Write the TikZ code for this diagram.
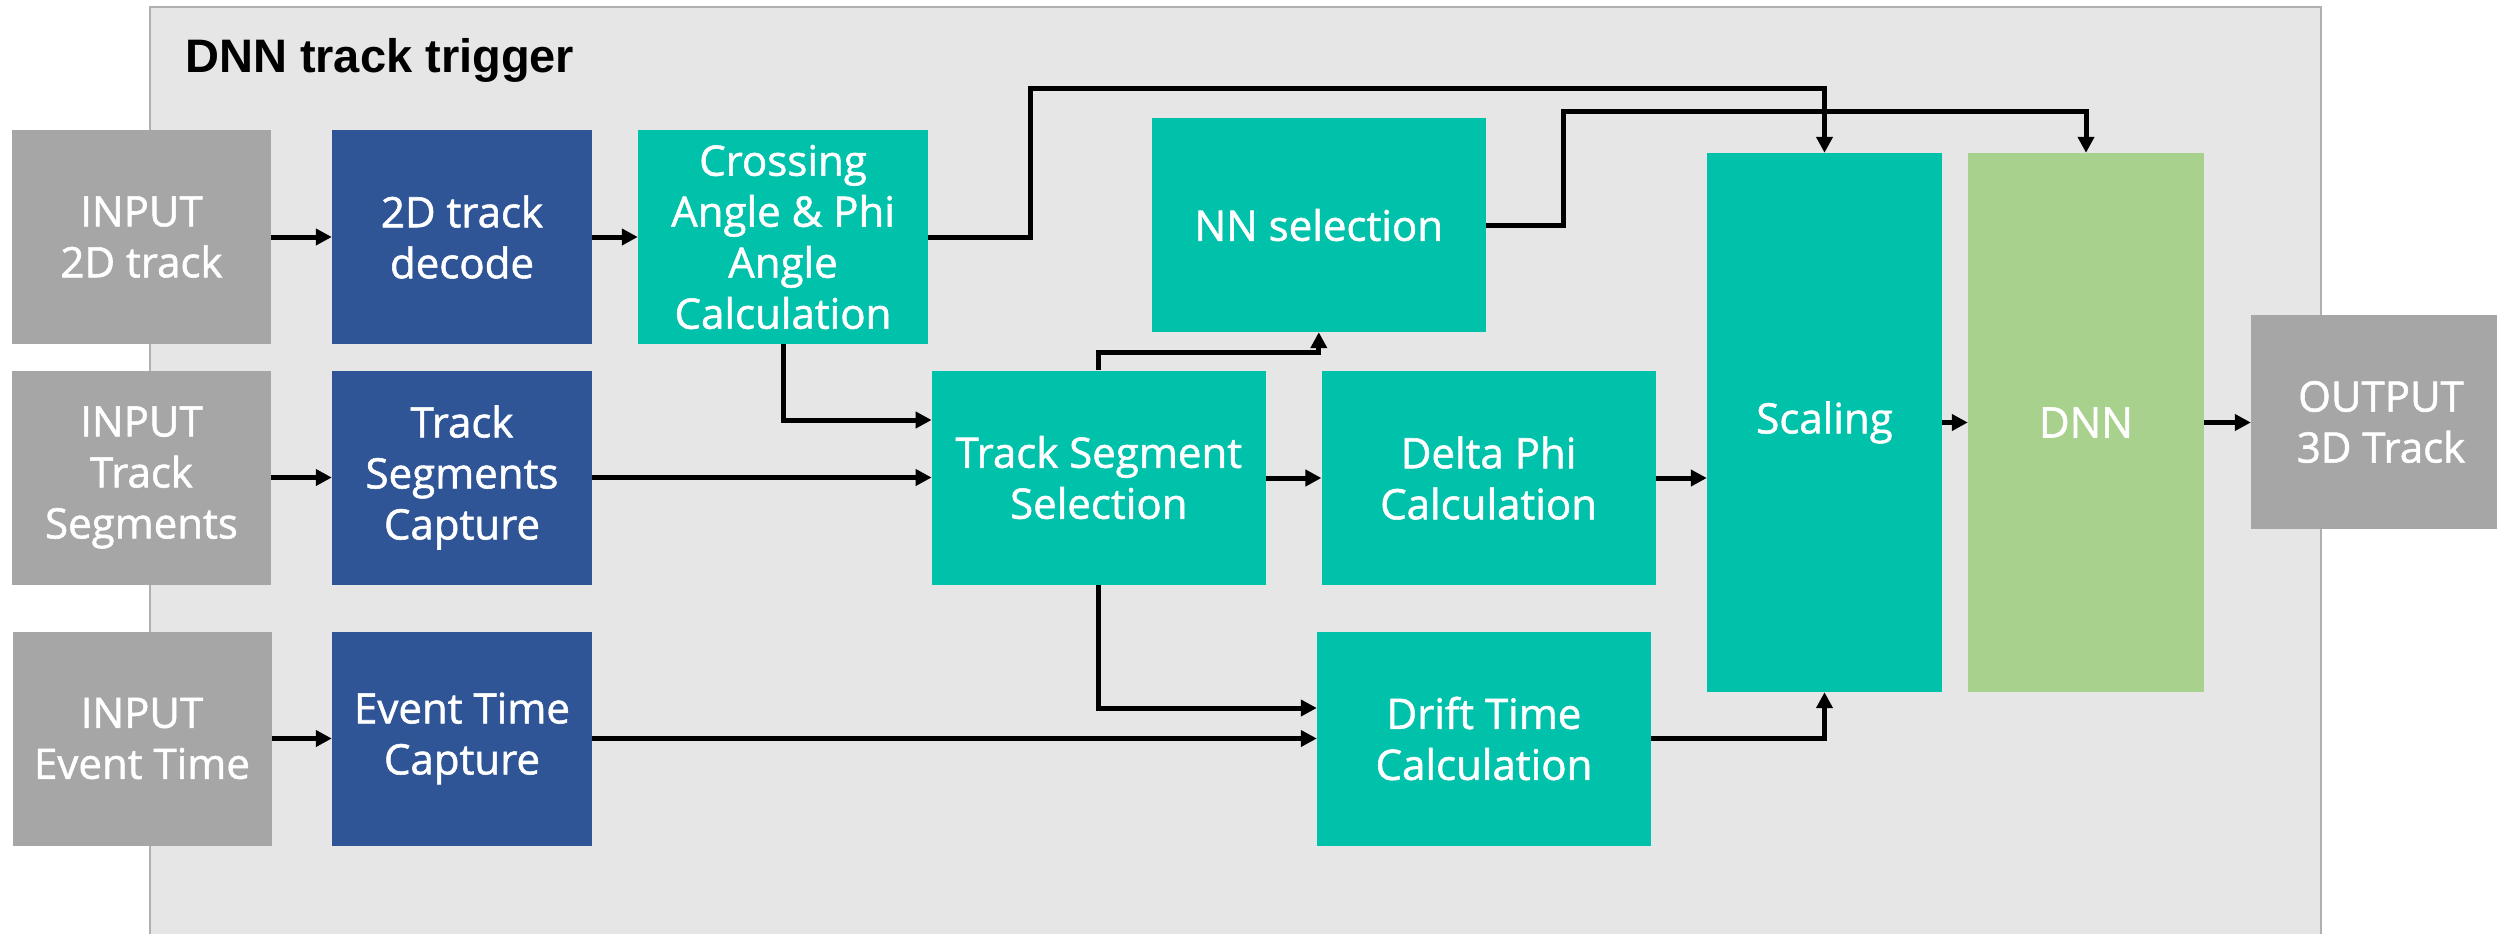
\documentclass[tikz,border=0pt]{standalone}
\usepackage{fontspec}
\setmainfont{Open Sans}
\newfontfamily\boxfont{Open Sans}[RawFeature={embolden=1.3}]
\newfontfamily\headfont{Liberation Sans}
\usetikzlibrary{arrows.meta}

\definecolor{panelfill}{HTML}{E6E6E6}
\definecolor{panelline}{HTML}{B0B0B0}
\definecolor{iogray}{HTML}{A6A6A6}
\definecolor{capblue}{HTML}{2F5597}
\definecolor{calcteal}{HTML}{00C1AA}
\definecolor{dnngreen}{HTML}{A9D18E}

\tikzset{
  blk/.style={rectangle, inner sep=0pt, align=center, text=white,
              font=\boxfont\fontsize{42}{51}\selectfont},
  iobox/.style={blk, fill=iogray, minimum width=259pt, minimum height=214pt},
  capbox/.style={blk, fill=capblue, minimum width=260pt, minimum height=214pt},
  calcbox/.style={blk, fill=calcteal, minimum height=214pt},
  wire/.style={line width=5pt, draw=black},
  conn/.style={wire, -{Triangle[length=16pt,width=16pt]}}
}

\begin{document}
\begin{tikzpicture}[x=1pt, y=-1pt]
\useasboundingbox (0,0) rectangle (2497,934);
\clip (0,0) rectangle (2497,934);

% enclosing panel
\draw[fill=panelfill, draw=panelline, line width=2pt] (150,7) rectangle (2321,950);
\node[anchor=base west, inner sep=0pt,
      font=\headfont\bfseries\fontsize{47}{56}\selectfont] (title) at (185,72) {DNN track trigger};

% inputs
\node[iobox] (in1) at (141.5,237) {INPUT\\2D track};
\node[iobox] (in2) at (141.5,477.5) {INPUT\\Track\\Segments};
\node[iobox] (in3) at (142,738.5) {INPUT\\Event Time};

% capture stages
\node[capbox] (dec) at (462,237) {2D track\\decode};
\node[capbox] (tsc) at (462,477.5) {Track\\Segments\\Capture};
\node[capbox] (etc) at (462,738.5) {Event Time\\Capture};

% processing stages
\node[calcbox, minimum width=290pt] (cross) at (783,237) {Crossing\\Angle \& Phi\\Angle\\Calculation};
\node[calcbox, minimum width=334pt] (nn) at (1318.8,225) {NN selection};
\node[calcbox, minimum width=334pt] (tss) at (1098.8,477.5) {Track Segment\\Selection};
\node[calcbox, minimum width=334pt] (delta) at (1488.6,478) {Delta Phi\\Calculation};
\node[calcbox, minimum width=334pt] (drift) at (1484,738.5) {Drift Time\\Calculation};
\node[calcbox, minimum width=235pt, minimum height=539pt] (scal) at (1824.5,422.5) {Scaling};
\node[blk, fill=dnngreen, minimum width=236pt, minimum height=539pt] (dnn) at (2086,422.5) {DNN};

% output
\node[iobox, minimum width=260pt] (out) at (2381,422) {OUTPUT\\3D Track};

% bend points
\coordinate (k1) at (1030,88);
\coordinate (k2) at (0,420);
\coordinate (k3) at (0,352);
\coordinate (k4) at (1563,111);
\coordinate (k5) at (0,708);

% connectors
\draw[conn] (in1.east) -- (dec.west);
\draw[conn] (dec.east) -- (cross.west);
\draw[conn] (in2.east) -- (tsc.west);
\draw[conn] (tsc.east) -- (tss.west |- tsc.east);
\draw[conn] (in3.east) -- (etc.west);
\draw[conn] (etc.east) -- (drift.west);
\draw[conn] (cross.east) -| (k1) -| (scal.north);
\draw[conn] (cross.south) |- (tss.west |- k2);
\draw[conn] (tss.north) -- (tss.north |- k3) -| (nn.south);
\draw[conn] (nn.east) -| (k4) -| (dnn.north);
\draw[conn] (tss.east |- delta.west) -- (delta.west);
\draw[conn] (delta.east) -- (scal.west |- delta.east);
\draw[conn] (tss.south) |- (drift.west |- k5);
\draw[conn] (drift.east) -| (scal.south);
\draw[conn] (scal.east) -- (dnn.west);
\draw[conn] (dnn.east) -- (out.west |- dnn.east);
\end{tikzpicture}
\end{document}
